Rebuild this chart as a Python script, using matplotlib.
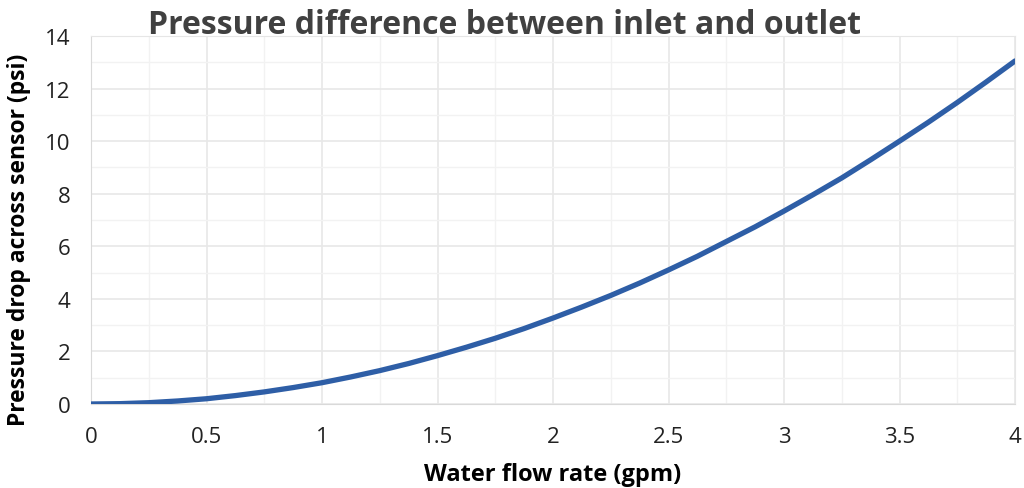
import matplotlib
matplotlib.use('Agg')
from matplotlib import pyplot as plt
from matplotlib.ticker import MultipleLocator

# values
flow_gpm = [0, 0.125, 0.25, 0.375, 0.5, 0.625, 0.75, 0.875, 1.0, 1.125, 1.25, 1.375, 1.5, 1.625,
            1.75, 1.875, 2.0, 2.125, 2.25, 2.375, 2.5, 2.625, 2.75, 2.875, 3.0, 3.125, 3.25,
            3.375, 3.5, 3.625, 3.75, 3.875, 4.0]
pressure_psi = [0, 0.013, 0.05, 0.115, 0.2, 0.32, 0.46, 0.625, 0.81, 1.03, 1.27, 1.54, 1.84, 2.16,
                2.5, 2.87, 3.27, 3.69, 4.13, 4.6, 5.1, 5.62, 6.18, 6.74, 7.34, 7.96, 8.6,
                9.29, 10.0, 10.72, 11.47, 12.25, 13.05]

x_ticks = [0, 0.5, 1, 1.5, 2, 2.5, 3, 3.5, 4]
x_tick_labels = ['0', '0.5', '1', '1.5', '2', '2.5', '3', '3.5', '4']

plt.rcParams['font.family'] = ['Open Sans', 'DejaVu Sans']

fig = plt.figure(figsize=(10.24, 4.89), dpi=100)
ax = fig.add_axes([91/1024, 1 - 405/489, (1015 - 91)/1024, (405 - 37)/489])

ax.plot(flow_gpm, pressure_psi, color='#2E5EA6', linewidth=3.8, solid_capstyle='round', zorder=3)

ax.set_xlim(0, 4)
ax.set_ylim(0, 14)
ax.set_xticks(x_ticks)
ax.set_xticklabels(x_tick_labels)
ax.xaxis.set_minor_locator(MultipleLocator(0.25))
ax.yaxis.set_major_locator(MultipleLocator(2))
ax.yaxis.set_minor_locator(MultipleLocator(1))
ax.grid(which='major', color='#e8e8e8', linewidth=1.2)
ax.grid(which='minor', color='#f2f2f2', linewidth=1.0)
ax.tick_params(which='both', length=0, labelsize=16, colors='#222222')
ax.tick_params(axis='x', pad=16)
ax.tick_params(axis='y', pad=15)
for s in ax.spines.values():
    s.set_color('#e6e6e6')
ax.spines['bottom'].set_color('#d9d9d9')
ax.spines['left'].set_color('#d9d9d9')

ax.set_xlabel('Water flow rate (gpm)', fontsize=17, fontweight='bold', labelpad=11)
ax.set_ylabel('Pressure drop across sensor (psi)', fontsize=16.5, fontweight='bold')
ax.yaxis.set_label_coords(-0.065, 0.448)

fig.text(0.493, 0.947, 'Pressure difference between inlet and outlet', ha='center', va='center',
         fontsize=23, fontweight='bold', color='#404040')

fig.savefig('out.png', dpi=100)
